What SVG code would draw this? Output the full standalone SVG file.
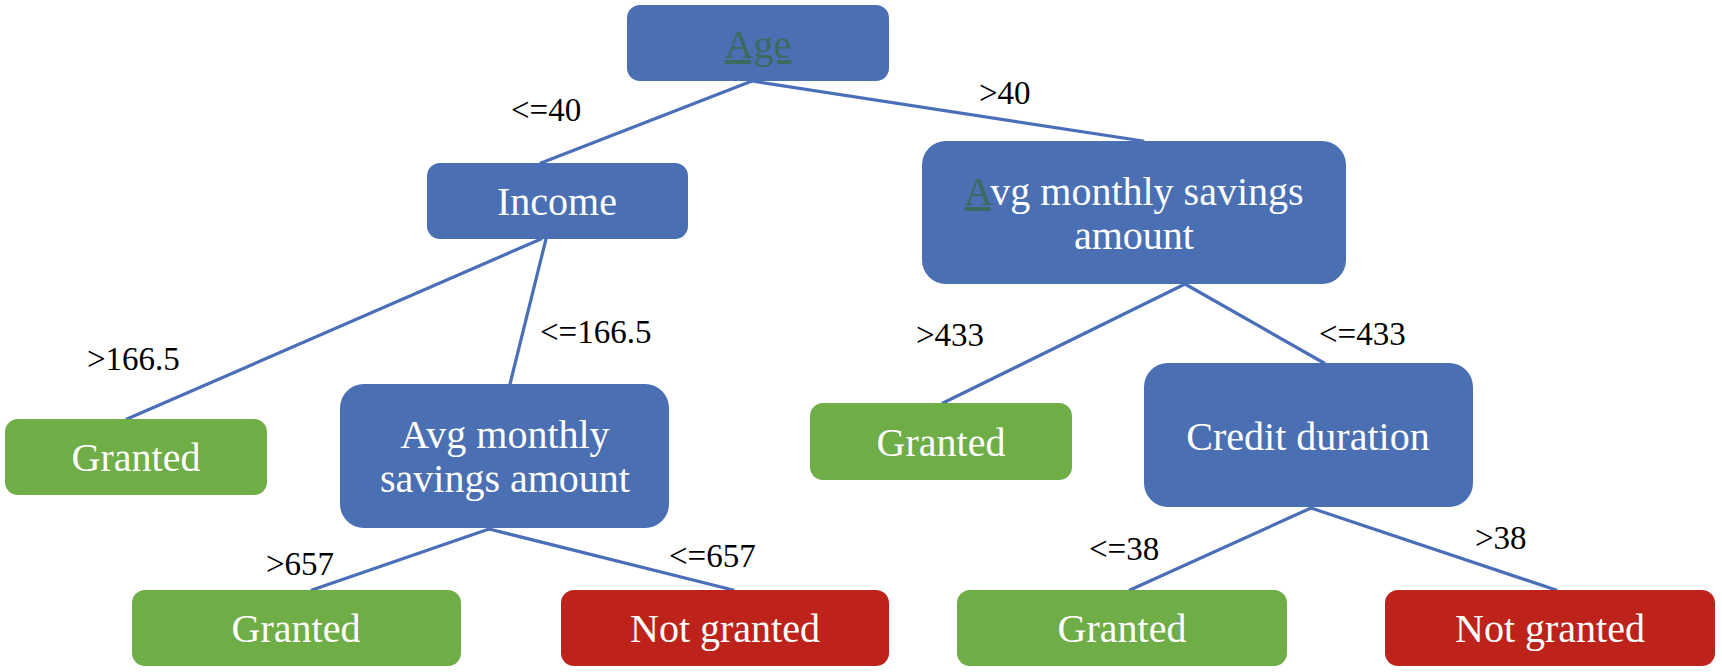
<svg xmlns="http://www.w3.org/2000/svg" width="1722" height="672" viewBox="0 0 1722 672">
<style>
.blue{fill:#4A6FB3}
.green{fill:#6FAD46}
.red{fill:#BD231A}
.nt{font-family:"Liberation Serif","Times New Roman",serif;font-size:40px;fill:#FFFFFF;text-anchor:middle}
.lb{font-family:"Liberation Serif","Times New Roman",serif;font-size:33px;fill:#000000}
.acc{fill:#3D6A5E;text-decoration:underline}
#connectors line{stroke:#4A6FB8;stroke-width:3.2;stroke-linecap:round}
</style>
<rect width="1722" height="672" fill="#FFFFFF"/>
<g id="connectors">
<line x1="752" y1="81" x2="541" y2="163"/>
<line x1="752" y1="81" x2="1143" y2="141"/>
<line x1="541" y1="239" x2="127" y2="419"/>
<line x1="546" y1="239" x2="510" y2="384"/>
<line x1="1185" y1="284" x2="943" y2="403"/>
<line x1="1185" y1="284" x2="1324" y2="363"/>
<line x1="489" y1="529" x2="312" y2="590"/>
<line x1="489" y1="529" x2="733" y2="590"/>
<line x1="1311" y1="508" x2="1130" y2="590"/>
<line x1="1311" y1="508" x2="1556" y2="590"/>
</g>
<g id="labels">
<text class="lb" x="511" y="121">&lt;=40</text>
<text class="lb" x="979" y="104">&gt;40</text>
<text class="lb" x="87" y="370">&gt;166.5</text>
<text class="lb" x="540" y="343">&lt;=166.5</text>
<text class="lb" x="916" y="346">&gt;433</text>
<text class="lb" x="1319" y="345">&lt;=433</text>
<text class="lb" x="266" y="575">&gt;657</text>
<text class="lb" x="669" y="567">&lt;=657</text>
<text class="lb" x="1089" y="560">&lt;=38</text>
<text class="lb" x="1475" y="549">&gt;38</text>
</g>
<g id="node-age">
<rect class="blue" x="627" y="5" width="262" height="76" rx="13"/>
<text class="nt" x="758" y="58"><tspan class="acc">Age</tspan></text>
</g>
<g id="node-income">
<rect class="blue" x="427" y="163" width="261" height="76" rx="13"/>
<text class="nt" x="557" y="215">Income</text>
</g>
<g id="node-savings-right">
<rect class="blue" x="922" y="141" width="424" height="143" rx="24"/>
<text class="nt" x="1134" y="205"><tspan class="acc">A</tspan>vg monthly savings</text>
<text class="nt" x="1134" y="249">amount</text>
</g>
<g id="node-granted-left">
<rect class="green" x="5" y="419" width="262" height="76" rx="13"/>
<text class="nt" x="136" y="471">Granted</text>
</g>
<g id="node-savings-left">
<rect class="blue" x="340" y="384" width="329" height="144" rx="24"/>
<text class="nt" x="505" y="448">Avg monthly</text>
<text class="nt" x="505" y="492">savings amount</text>
</g>
<g id="node-granted-right">
<rect class="green" x="810" y="403" width="262" height="77" rx="13"/>
<text class="nt" x="941" y="456">Granted</text>
</g>
<g id="node-credit">
<rect class="blue" x="1144" y="363" width="329" height="144" rx="24"/>
<text class="nt" x="1308" y="450">Credit duration</text>
</g>
<g id="node-granted-2">
<rect class="green" x="132" y="590" width="329" height="76" rx="13"/>
<text class="nt" x="296" y="642">Granted</text>
</g>
<g id="node-notgranted-1">
<rect class="red" x="561" y="590" width="328" height="76" rx="13"/>
<text class="nt" x="725" y="642">Not granted</text>
</g>
<g id="node-granted-3">
<rect class="green" x="957" y="590" width="330" height="76" rx="13"/>
<text class="nt" x="1122" y="642">Granted</text>
</g>
<g id="node-notgranted-2">
<rect class="red" x="1385" y="590" width="330" height="76" rx="13"/>
<text class="nt" x="1550" y="642">Not granted</text>
</g>
</svg>
